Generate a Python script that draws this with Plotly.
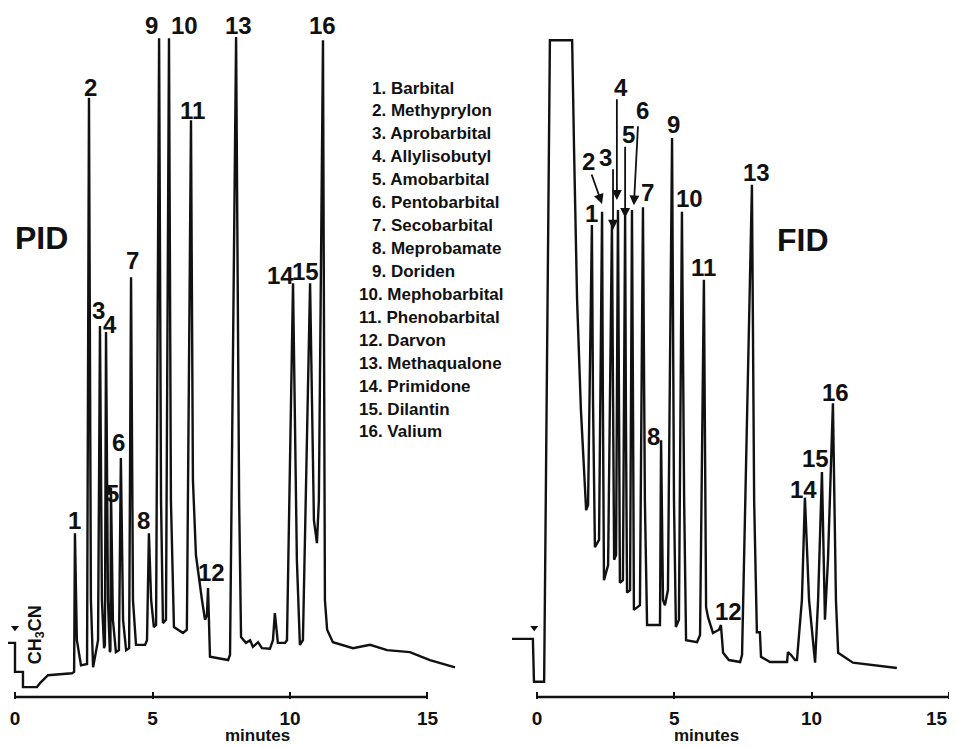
import plotly.graph_objects as go

# ---------------- data ----------------
# PID chromatogram: retention time (min) and relative response (% of full scale)
pid_time = [-0.29, 0.00, 0.00, 0.29, 0.29, 0.80, 0.91, 1.20, 2.07,
            2.15, 2.18, 2.25, 2.40,
            2.62, 2.69, 2.76, 2.84,
            3.02, 3.09, 3.16, 3.24,
            3.27, 3.31, 3.38, 3.45,
            3.47, 3.49, 3.56, 3.67,
            3.78, 3.85, 3.93, 4.04,
            4.15, 4.22, 4.29, 4.40, 4.73,
            4.80, 4.87, 4.95, 5.05,
            5.13, 5.24, 5.31, 5.38,
            5.49, 5.60, 5.67, 5.78, 6.11,
            6.25, 6.40, 6.47, 6.58, 6.69, 6.80, 6.91,
            6.98, 7.02, 7.09, 7.75,
            7.82, 8.04, 8.15, 8.22, 8.40, 8.55, 8.65, 8.84, 8.98, 9.27,
            9.38, 9.45, 9.56, 9.82,
            9.89, 10.11, 10.25, 10.36,
            10.47, 10.73, 10.87, 10.98,
            11.05, 11.20, 11.27, 11.35, 11.56, 12.29, 12.91, 13.53, 14.36, 15.09, 16.00]
pid_signal = [8.2, 8.2, 3.8, 3.8, 1.5, 1.5, 2.1, 3.3, 3.6,
              3.8, 24.8, 8.6, 4.8,
              5.0, 90.8, 14.7, 4.5,
              8.6, 56.2, 14.7, 7.4,
              7.9, 55.3, 14.7, 6.8,
              7.1, 31.7, 11.7, 6.8,
              7.1, 36.2, 11.7, 7.1,
              7.4, 63.6, 14.7, 7.9, 7.9,
              8.6, 24.8, 14.7, 10.6,
              10.9, 99.8, 29.8, 11.2,
              11.7, 99.8, 29.8, 10.6, 9.7,
              10.2, 87.4, 32.9, 21.5, 17.7, 14.7, 11.7,
              12.4, 16.5, 6.1, 5.6,
              6.4, 100.0, 29.8, 9.1, 8.2, 8.6, 7.6, 8.3, 7.4, 7.3,
              8.6, 12.7, 8.2, 8.2,
              8.6, 62.7, 20.8, 7.9,
              8.6, 62.7, 26.8, 23.3,
              29.8, 99.5, 14.7, 10.2, 8.3, 7.4, 7.9, 7.1, 6.8, 5.6, 4.5]

# FID chromatogram
fid_time = [-0.91, -0.15, -0.11, 0.18, 0.26, 0.47, 1.28, 1.35, 1.46, 1.60, 1.79,
            1.86, 2.00, 2.04, 2.11,
            2.26, 2.37, 2.40, 2.44,
            2.59, 2.73, 2.77, 2.81,
            2.88, 2.95, 2.99, 3.02,
            3.13, 3.21, 3.24, 3.28,
            3.39, 3.46, 3.50, 3.53,
            3.75, 3.86, 3.93, 4.01, 4.48,
            4.52, 4.59, 4.66,
            4.77, 4.92, 4.99, 5.06,
            5.17, 5.28, 5.36, 5.43, 5.83,
            5.94, 6.08, 6.16, 6.23, 6.41,
            6.63, 6.70, 6.78, 6.99, 7.40,
            7.47, 7.83, 7.91, 8.01, 8.12, 8.16, 8.49, 9.11, 9.14, 9.25, 9.40, 9.47,
            9.65, 9.76, 9.91, 10.13,
            10.24, 10.38, 10.49,
            10.60, 10.78, 10.89, 10.97, 11.51, 13.11]
fid_signal = [8.8, 8.8, 2.3, 2.3, 2.3, 99.5, 99.5, 82.9, 60.2, 43.5, 28.3,
              29.1, 71.5, 45.0, 22.7,
              23.8, 73.5, 45.0, 17.7,
              20.0, 71.8, 45.0, 20.8,
              21.5, 73.8, 42.0, 17.3,
              17.7, 73.0, 42.0, 15.8,
              16.2, 73.8, 42.0, 13.2,
              13.9, 74.2, 29.8, 10.9, 10.9,
              38.9, 14.7, 13.9,
              16.2, 84.7, 29.8, 10.6,
              11.7, 73.5, 29.8, 8.6, 8.3,
              9.4, 63.2, 13.6, 12.1, 9.7,
              10.2, 10.9, 6.7, 5.6, 5.3,
              6.4, 77.6, 29.8, 9.8, 9.8, 6.1, 5.3, 5.3, 6.8, 6.4, 5.6, 5.6,
              14.7, 30.2, 14.7, 5.2,
              14.7, 34.1, 11.7,
              20.8, 44.5, 14.7, 6.7, 5.2, 4.4]

injection_time_pid = [0.0]
injection_time_fid = [-0.1]
injection_mark_level = [10.5]

tick_vals = [0, 5, 10, 15]
tick_text = ["0", "5", "10", "15"]

compounds = ["Barbital", "Methyprylon", "Aprobarbital", "Allylisobutyl",
             "Amobarbital", "Pentobarbital", "Secobarbital", "Meprobamate",
             "Doriden", "Mephobarbital", "Phenobarbital", "Darvon",
             "Methaqualone", "Primidone", "Dilantin", "Valium"]

# peak number labels: (label, time, response)
pid_labels = [("2", 2.76, 92.4), ("9", 4.95, 101.7), ("10", 6.18, 101.7),
              ("13", 8.11, 101.7), ("16", 11.2, 101.7), ("11", 6.44, 88.9),
              ("7", 4.29, 66.1), ("14", 9.67, 63.8), ("15", 10.55, 64.5),
              ("3", 3.05, 58.6), ("4", 3.45, 56.5), ("6", 3.78, 38.5),
              ("5", 3.56, 30.9), ("1", 2.18, 26.8), ("8", 4.69, 26.8),
              ("12", 7.13, 18.9)]
fid_labels = [("4", 3.06, 92.3), ("6", 3.83, 88.8), ("5", 3.32, 85.2),
              ("9", 4.99, 86.7), ("2", 1.86, 81.1), ("3", 2.51, 81.8),
              ("13", 7.98, 79.5), ("7", 4.04, 76.4), ("10", 5.57, 75.6),
              ("1", 2.00, 73.2), ("11", 6.08, 65.0), ("16", 10.86, 46.2),
              ("8", 4.23, 39.4), ("15", 10.16, 36.2), ("14", 9.69, 31.5),
              ("12", 6.96, 13.0)]
# arrows from labels to peaks in FID: (tail_t, tail_s, head_t, head_s)
fid_arrows = [(1.97, 79.4, 2.37, 74.7), (2.77, 80.2, 2.77, 70.8),
              (2.91, 90.8, 2.91, 75.3), (3.21, 83.6, 3.21, 72.6),
              (3.68, 86.7, 3.53, 74.5)]

# ---------------- figure ----------------
BLACK = "#111111"
FONT = "Liberation Sans"
W, H = 949, 739          # page body keeps an 8 px margin
OFF = 8
PLOT_BOTTOM = 699        # page pixel row of the plot-area bottom
PH = PLOT_BOTTOM - OFF   # plot-area height


def px_x(page_x):
    return (page_x - OFF) / W


def px_y(page_y):
    return (PLOT_BOTTOM - page_y) / PH


fig = go.Figure()
fig.add_trace(go.Scatter(x=pid_time, y=pid_signal, mode="lines",
                         line=dict(color=BLACK, width=2.4), xaxis="x", yaxis="y",
                         hoverinfo="skip"))
fig.add_trace(go.Scatter(x=fid_time, y=fid_signal, mode="lines",
                         line=dict(color=BLACK, width=2.4), xaxis="x2", yaxis="y2",
                         hoverinfo="skip"))
fig.add_trace(go.Scatter(x=injection_time_pid, y=injection_mark_level, mode="markers",
                         marker=dict(symbol="triangle-down", size=7, color=BLACK),
                         xaxis="x", yaxis="y", hoverinfo="skip"))
fig.add_trace(go.Scatter(x=injection_time_fid, y=injection_mark_level, mode="markers",
                         marker=dict(symbol="triangle-down", size=7, color=BLACK),
                         xaxis="x2", yaxis="y2", hoverinfo="skip"))

yr = [-0.303, 104.39]
axis_common = dict(tickvals=tick_vals, ticks="inside", ticklen=7, tickwidth=2.2,
                   tickcolor=BLACK, showgrid=False, zeroline=False, showline=False,
                   tickfont=dict(family=FONT, size=19, color=BLACK),
                   ticklabelstandoff=6, ticklabeloverflow="allow", fixedrange=True)
left_ticktext = ["<b>%s</b>" % t for t in tick_text]
# the last label of the right panel sits against the page edge: drawn separately
right_ticktext = ["<b>%s</b>" % t for t in tick_text[:-1]] + [""]
split = px_x(478.5)
fig.update_layout(
    width=W, height=H, template="none",
    margin=dict(l=0, r=0, t=0, b=H - PH),
    paper_bgcolor="white", plot_bgcolor="white", showlegend=False,
    xaxis=dict(domain=[0, split], range=[-0.2545, 16.855], anchor="y",
               ticktext=left_ticktext, **axis_common),
    xaxis2=dict(domain=[split, 1], range=[-2.131, 15.30], anchor="y2",
                ticktext=right_ticktext, **axis_common),
    yaxis=dict(domain=[0, 1], range=yr, visible=False, anchor="x"),
    yaxis2=dict(domain=[0, 1], range=yr, visible=False, anchor="x2"),
)

# time axis baselines from 0 to 15 min
for xr, yref in (("x", "y"), ("x2", "y2")):
    fig.add_shape(type="line", xref=xr, yref=yref, x0=tick_vals[0], x1=tick_vals[-1],
                  y0=0, y1=0, line=dict(color=BLACK, width=2.6))

ann = []
num_font = dict(family=FONT, size=24, color=BLACK)
for lab, t, s in pid_labels:
    ann.append(dict(x=t, y=s, xref="x", yref="y", text="<b>%s</b>" % lab,
                    showarrow=False, font=num_font))
for lab, t, s in fid_labels:
    ann.append(dict(x=t, y=s, xref="x2", yref="y2", text="<b>%s</b>" % lab,
                    showarrow=False, font=num_font))
for t0, s0, t1, s1 in fid_arrows:
    ann.append(dict(x=t1, y=s1, ax=t0, ay=s0, xref="x2", yref="y2",
                    axref="x2", ayref="y2", text="", showarrow=True,
                    arrowhead=2, arrowsize=1.1, arrowwidth=1.8, arrowcolor=BLACK))

# right-panel "15" tick label, nudged left to stay inside the page
ann.append(dict(x=px_x(950), y=px_y(718), xref="paper", yref="paper",
                text="<b>%s</b>" % tick_text[-1], showarrow=False,
                xanchor="right", yanchor="middle",
                font=dict(family=FONT, size=19, color=BLACK)))

ann.append(dict(x=0.98, y=69.5, xref="x", yref="y", text="<b>PID</b>",
                showarrow=False, font=dict(family=FONT, size=32, color=BLACK)))
ann.append(dict(x=9.69, y=69.2, xref="x2", yref="y2", text="<b>FID</b>",
                showarrow=False, font=dict(family=FONT, size=32, color=BLACK)))
ann.append(dict(x=0.76, y=9.5, xref="x", yref="y", text="<b>CH<sub>3</sub>CN</b>",
                textangle=-90, showarrow=False,
                font=dict(family=FONT, size=18, color=BLACK)))

for xc in (223, 741):
    ann.append(dict(x=px_x(xc), y=px_y(735), xref="paper", yref="paper",
                    text="<b>minutes</b>", showarrow=False, yanchor="middle",
                    font=dict(family=FONT, size=17, color=BLACK)))

for i, name in enumerate(compounds):
    py = 88 + i * 22.93
    xpx = 370 if i < 9 else 357
    ann.append(dict(x=px_x(xpx), y=px_y(py), xref="paper", yref="paper",
                    xanchor="left", yanchor="middle", showarrow=False,
                    text="<b>%d. %s</b>" % (i + 1, name),
                    font=dict(family=FONT, size=17, color=BLACK)))

fig.update_layout(annotations=ann)
fig.write_html("out.html")
